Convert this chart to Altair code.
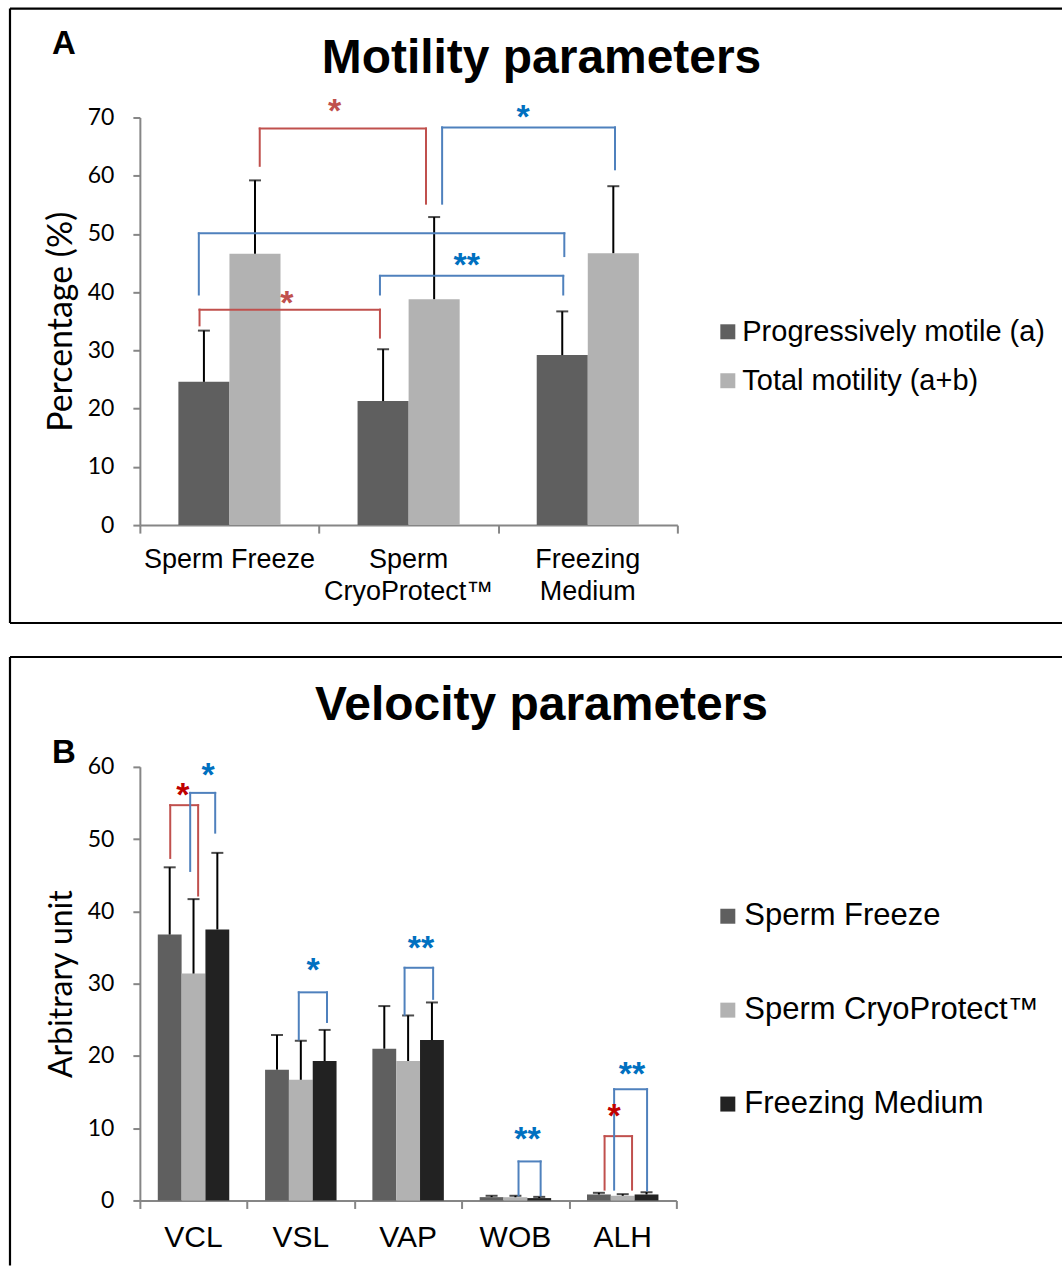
import altair as alt
import pandas as pd

# ---------------- Panel A : Motility parameters ----------------
a_groups = ["Sperm Freeze", "Sperm\nCryoProtect™", "Freezing\nMedium"]
a_series = ["Progressively motile (a)", "Total motility (a+b)"]
a_means = [[24.6, 21.3, 29.2], [46.6, 38.8, 46.7]]
a_sds = [[8.8, 8.9, 7.5], [12.6, 14.1, 11.5]]
a_colors = ["#5F5F5F", "#B2B2B2"]

# significance brackets (x in category units, y in data units)
a_br_pair = ["SF-CP", "vs FM", "vs FM", "vs FM", "SF-CP"]
a_br_xl = [0.669, 1.687, 0.329, 1.340, 0.333]
a_br_xr = [1.597, 2.652, 2.369, 2.363, 1.340]
a_br_yl = [61.7, 55.2, 39.6, 39.6, 34.3]
a_br_yr = [55.2, 61.1, 46.2, 39.6, 32.2]
a_br_top = [68.1, 68.3, 50.1, 42.8, 37.0]
a_st_pair = ["SF-CP", "vs FM", "vs FM", "SF-CP"]
a_st_txt = ["*", "*", "**", "*"]
a_st_x = [1.087, 2.139, 1.824, 0.820]
a_st_y = [71.8, 70.8, 45.3, 38.9]

# ---------------- Panel B : Velocity parameters ----------------
b_groups = ["VCL", "VSL", "VAP", "WOB", "ALH"]
b_series = ["Sperm Freeze", "Sperm CryoProtect™", "Freezing Medium"]
b_means = [[36.8, 18.1, 21.0, 0.46, 0.83],
           [31.4, 16.7, 19.3, 0.45, 0.65],
           [37.5, 19.3, 22.2, 0.33, 0.83]]
b_sds = [[9.3, 4.8, 5.9, 0.19, 0.23],
         [10.3, 5.4, 6.3, 0.20, 0.22],
         [10.6, 4.3, 5.2, 0.17, 0.32]]
b_colors = ["#5F5F5F", "#B2B2B2", "#222222"]

b_br_pair = ["SF-CP", "vs FM", "vs FM", "vs FM", "vs FM", "SF-CP", "vs FM"]
b_br_xl = [0.283, 0.469, 1.481, 2.467, 3.529, 4.331, 4.420]
b_br_xr = [0.543, 0.702, 1.744, 2.733, 3.735, 4.587, 4.727]
b_br_yl = [47.4, 45.6, 22.3, 25.7, 0.7, 1.5, 1.5]
b_br_yr = [42.2, 50.9, 24.7, 27.9, 0.7, 1.5, 1.4]
b_br_top = [54.7, 56.4, 28.8, 32.2, 5.4, 8.9, 15.4]
b_st_pair = ["SF-CP", "vs FM", "vs FM", "vs FM", "vs FM", "SF-CP", "vs FM"]
b_st_txt = ["*", "*", "*", "**", "**", "*", "**"]
b_st_x = [0.400, 0.636, 1.615, 2.620, 3.612, 4.420, 4.587]
b_st_y = [56.7, 59.4, 32.4, 35.5, 9.0, 12.3, 18.0]

AXIS_GREY = "#868686"
BR_DOMAIN = ["SF-CP", "vs FM"]
BR_RANGE = ["#C0504D", "#4F81BD"]


def bar_table(groups, series, means, sds, width):
    rows = []
    n = len(series)
    for s, name in enumerate(series):
        for i, g in enumerate(groups):
            x0 = i + 0.5 + (s - n / 2) * width
            rows.append(dict(group=g, series=name, x0=x0, x1=x0 + width,
                             xc=x0 + width / 2, mean=means[s][i],
                             top=means[s][i] + sds[s][i]))
    return pd.DataFrame(rows)


def bracket_table(pair, xl, xr, yl, yr, top):
    rows = []
    for p, a, b, ya, yb, t in zip(pair, xl, xr, yl, yr, top):
        rows.append(dict(pair=p, xa=a, xb=a, ya=ya, yb=t))
        rows.append(dict(pair=p, xa=a, xb=b, ya=t, yb=t))
        rows.append(dict(pair=p, xa=b, xb=b, ya=yb, yb=t))
    return pd.DataFrame(rows)


def panel(letter, title, groups, series, means, sds, colors, width_frac,
          ymax, ytitle, ytitle_size, br, stars, star_colors, w, h, lab_size,
          lab_y, lab_lh, leg, frame, letter_y, title_y, ytitle_x):
    ng = len(groups)
    bars = bar_table(groups, series, means, sds, width_frac)
    xs = alt.Scale(domain=[0, ng], nice=False, zero=False)
    ys = alt.Scale(domain=[0, ymax], nice=False)
    xaxis = alt.Axis(values=list(range(ng + 1)), labels=False, title=None,
                     grid=False, tickSize=8, tickWidth=2, tickColor=AXIS_GREY,
                     domainColor=AXIS_GREY, domainWidth=2)
    yaxis = alt.Axis(values=list(range(0, ymax + 1, 10)), title=ytitle,
                     grid=False, tickSize=7, tickWidth=2, tickColor=AXIS_GREY,
                     domainColor=AXIS_GREY, domainWidth=2,
                     labelFont="Lato", labelFontSize=23, labelColor="black",
                     labelPadding=19, titleFont="Lato", titleFontSize=ytitle_size,
                     titleFontWeight="normal", titleColor="black",
                     titleAngle=270, titleX=ytitle_x, titleY=h / 2,
                     titleAlign="center", titleBaseline="middle")

    def X(f):
        return alt.X(f, scale=xs, axis=xaxis)

    def Y(f):
        return alt.Y(f, scale=ys, axis=yaxis)

    base = alt.Chart(bars)
    rects = base.mark_rect().encode(
        x=X("x0:Q"), x2="x1:Q", y=Y("mean:Q"), y2=alt.datum(0),
        color=alt.Color("series:N", scale=alt.Scale(domain=series, range=colors),
                        legend=alt.Legend(title=None, orient="none",
                                          legendX=leg[0], legendY=leg[1],
                                          direction="vertical",
                                          symbolType="square", symbolSize=225,
                                          symbolStrokeWidth=0,
                                          labelFont="Liberation Sans",
                                          labelFontSize=leg[2],
                                          labelColor="black",
                                          labelOffset=leg[3],
                                          rowPadding=leg[4], padding=0,
                                          labelLimit=500)))
    stems = base.mark_rule(color="black", strokeWidth=2).encode(
        x=X("xc:Q"), y=Y("mean:Q"), y2="top:Q")
    caps = base.mark_tick(color="black", orient="horizontal", size=12,
                          thickness=2).encode(x=X("xc:Q"), y=Y("top:Q"))

    brd = bracket_table(*br)
    brackets = alt.Chart(brd).mark_rule(strokeWidth=2, strokeCap="square").encode(
        x=X("xa:Q"), x2="xb:Q", y=Y("ya:Q"), y2="yb:Q",
        stroke=alt.Stroke("pair:N", scale=alt.Scale(domain=BR_DOMAIN, range=BR_RANGE),
                          legend=None))
    std = pd.DataFrame(dict(pair=stars[0], txt=stars[1], sx=stars[2], sy=stars[3]))
    star_marks = alt.Chart(std).mark_text(
        font="Liberation Sans", fontSize=34, fontWeight="bold",
        baseline="alphabetic", align="center", dy=15).encode(
        x=X("sx:Q"), y=Y("sy:Q"), text="txt:N",
        fill=alt.Fill("pair:N", scale=alt.Scale(domain=BR_DOMAIN, range=star_colors),
                      legend=None))

    labd = pd.DataFrame(dict(group=groups, xm=[i + 0.5 for i in range(ng)]))
    labels = alt.Chart(labd).mark_text(
        font="Liberation Sans", fontSize=lab_size, lineBreak="\n",
        lineHeight=lab_lh, baseline="alphabetic", align="center",
        color="black").encode(x=X("xm:Q"), y=alt.value(lab_y), text="group:N")

    one = alt.Chart(pd.DataFrame({"k": [0]}))
    ttl = one.mark_text(text=title, font="Liberation Sans", fontSize=48,
                        fontWeight="bold", align="center", baseline="alphabetic",
                        color="black").encode(x=alt.value(402), y=alt.value(title_y))
    let = one.mark_text(text=letter, font="Liberation Sans", fontSize=33,
                        fontWeight="bold", align="center", baseline="alphabetic",
                        color="black").encode(x=alt.value(-76), y=alt.value(letter_y))
    fl, ft, fr, fb = frame
    frame_marks = [
        one.mark_rule(color="black", strokeWidth=2.2, strokeCap="butt").encode(
            x=alt.value(fl), x2=alt.value(fr), y=alt.value(ft)),
        one.mark_rule(color="black", strokeWidth=2.2, strokeCap="butt").encode(
            x=alt.value(fl), y=alt.value(ft), y2=alt.value(fb)),
    ]
    if letter == "A":
        frame_marks.append(
            one.mark_rule(color="black", strokeWidth=2.2, strokeCap="butt").encode(
                x=alt.value(fl), x2=alt.value(fr), y=alt.value(fb)))
    return alt.layer(rects, stems, caps, brackets, star_marks, labels, ttl, let,
                     *frame_marks).properties(width=w, height=h)


chart_a = panel("A", "Motility parameters", a_groups, a_series, a_means, a_sds,
                a_colors, 0.285, 70, "Percentage (%)", 34,
                (a_br_pair, a_br_xl, a_br_xr, a_br_yl, a_br_yr, a_br_top),
                (a_st_pair, a_st_txt, a_st_x, a_st_y), ["#C0504D", "#0070C0"],
                538, 408, 27, 451, 32, (574, 200, 29, 0, 19),
                (-130, -109, 923, 506), -64, -45, -78)

chart_b = panel("B", "Velocity parameters", b_groups, b_series, b_means, b_sds,
                b_colors, 0.222, 60, "Arbitrary unit", 32,
                (b_br_pair, b_br_xl, b_br_xr, b_br_yl, b_br_yr, b_br_top),
                (b_st_pair, b_st_txt, b_st_x, b_st_y), ["#C00000", "#0070C0"],
                537, 434, 30, 481, 32, (573, 134, 31, 1, 62),
                (-130, -110, 923, 499), -4, -47, -78)

chart = alt.vconcat(chart_a, chart_b, spacing=30).resolve_scale(
    color="independent", stroke="independent", fill="independent",
    x="independent", y="independent").properties(
    padding={"left": 8, "top": 6, "right": 0, "bottom": 0}).configure_view(
    stroke="transparent")

chart.save("out.html", embed_options={"renderer": "svg", "actions": False})
